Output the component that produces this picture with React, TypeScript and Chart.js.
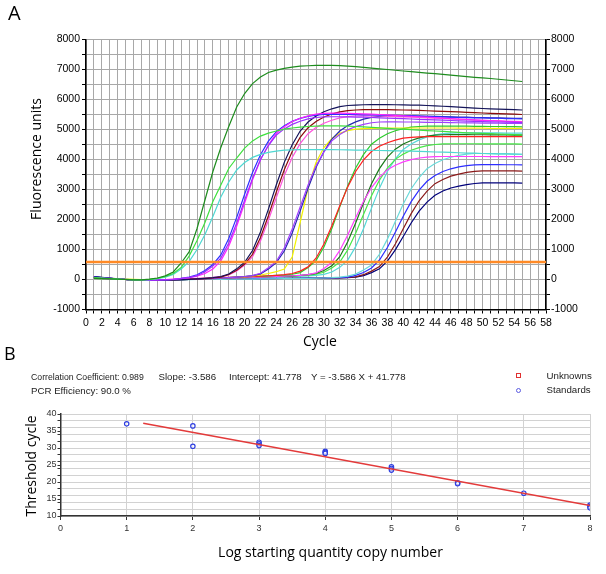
import React, { useEffect, useRef } from "react";
import { Chart, registerables } from "chart.js";
Chart.register(...registerables);

// ---------- Panel A data (fluorescence per cycle) ----------
const cycles = Array.from({ length: 55 }, (_, i) => i + 1);
const thresholdValue = 580;
const xTicksA = { min: 0, max: 58 };
const yTicksA = { min: -1000, max: 8000 };

const A1_DARKGREEN = [40, 30, 20, 10, 0, -10, -10, 10, 50, 120,
  250, 550, 920, 1700, 2650, 3600, 4400, 5100, 5750, 6200,
  6530, 6750, 6900, 6980, 7040, 7080, 7110, 7125, 7135, 7140,
  7140, 7130, 7115, 7095, 7070, 7045, 7020, 7000, 6975, 6950,
  6930, 6905, 6880, 6860, 6835, 6810, 6785, 6765, 6740, 6720,
  6700, 6675, 6650, 6625, 6600];
const A2_LIME = [60, 45, 30, 15, 0, -10, -15, 0, 40, 100,
  200, 400, 780, 1300, 1900, 2600, 3150, 3700, 4050, 4380,
  4620, 4780, 4880, 4950, 5010, 5050, 5080, 5100, 5110, 5120,
  5120, 5120, 5110, 5100, 5085, 5070, 5055, 5040, 5025, 5010,
  4995, 4980, 4965, 4950, 4935, 4920, 4905, 4890, 4880, 4870,
  4860, 4850, 4840, 4830, 4820];
const A3_CYAN = [50, 40, 25, 10, 0, -10, -15, -5, 30, 80,
  170, 350, 600, 1000, 1500, 2100, 2750, 3250, 3650, 3900,
  4070, 4170, 4240, 4280, 4310, 4320, 4330, 4330, 4330, 4330,
  4330, 4325, 4320, 4315, 4310, 4305, 4300, 4295, 4290, 4285,
  4280, 4270, 4260, 4250, 4245, 4235, 4225, 4215, 4210, 4200,
  4195, 4190, 4185, 4180, 4175];
const B1_PURPLE = [70, 50, 35, 15, 0, -10, -20, -20, -15, -10,
  0, 35, 65, 130, 255, 450, 715, 1215, 1885, 2645,
  3380, 4000, 4465, 4815, 5020, 5170, 5275, 5355, 5400, 5420,
  5425, 5425, 5420, 5415, 5410, 5400, 5390, 5380, 5370, 5360,
  5350, 5340, 5330, 5320, 5310, 5300, 5290, 5280, 5270, 5260,
  5255, 5250, 5245, 5240, 5230];
const B2_MAGENTA = [45, 35, 25, 10, 0, -10, -15, -15, -10, 0,
  15, 30, 60, 110, 200, 350, 620, 1110, 1775, 2550,
  3325, 3990, 4485, 4875, 5095, 5265, 5375, 5455, 5510, 5540,
  5545, 5545, 5540, 5530, 5520, 5510, 5500, 5485, 5470, 5455,
  5440, 5425, 5410, 5395, 5380, 5365, 5350, 5335, 5320, 5305,
  5295, 5285, 5270, 5260, 5250];
const B3_BLUE = [80, 60, 40, 20, 5, -10, -20, -20, -15, -10,
  5, 36, 77, 160, 297, 500, 820, 1365, 2070, 2840,
  3565, 4160, 4610, 4930, 5125, 5270, 5370, 5440, 5480, 5500,
  5505, 5505, 5500, 5495, 5490, 5485, 5480, 5475, 5470, 5465,
  5460, 5450, 5440, 5430, 5420, 5410, 5400, 5395, 5390, 5385,
  5380, 5375, 5365, 5360, 5350];
const C1_NAVY = [100, 70, 45, 20, 0, -15, -25, -25, -20, -15,
  -10, -5, 5, 20, 40, 60, 100, 185, 355, 575,
  965, 1580, 2345, 3160, 3905, 4495, 4950, 5250, 5450, 5590,
  5690, 5760, 5800, 5815, 5825, 5830, 5830, 5830, 5825, 5820,
  5815, 5810, 5800, 5790, 5775, 5760, 5745, 5730, 5715, 5700,
  5690, 5680, 5670, 5660, 5650];
const C2_DARKRED = [70, 50, 30, 15, 0, -10, -20, -20, -15, -10,
  -5, 0, 10, 20, 30, 50, 80, 165, 305, 515,
  840, 1400, 2125, 2915, 3660, 4270, 4735, 5060, 5265, 5415,
  5515, 5590, 5630, 5650, 5660, 5665, 5665, 5660, 5655, 5650,
  5645, 5635, 5625, 5615, 5605, 5595, 5585, 5570, 5560, 5550,
  5540, 5530, 5520, 5510, 5500];
const C3_PINK = [50, 40, 25, 10, 0, -10, -15, -15, -10, -5,
  0, 10, 20, 35, 50, 70, 100, 150, 280, 480,
  765, 1285, 1975, 2735, 3465, 4070, 4530, 4860, 5065, 5210,
  5310, 5385, 5430, 5450, 5455, 5455, 5450, 5440, 5430, 5420,
  5410, 5400, 5390, 5380, 5370, 5355, 5340, 5330, 5315, 5305,
  5295, 5285, 5275, 5270, 5260];
const D1_VIOLET = [65, 50, 30, 15, 0, -10, -20, -20, -15, -10,
  -5, 0, 10, 20, 30, 40, 50, 65, 80, 100,
  130, 210, 395, 605, 1050, 1680, 2415, 3150, 3780, 4255,
  4620, 4830, 4990, 5095, 5170, 5225, 5250, 5255, 5255, 5250,
  5250, 5245, 5240, 5240, 5235, 5230, 5225, 5220, 5220, 5215,
  5210, 5210, 5205, 5200, 5200];
const D2_INDIGO = [85, 60, 40, 20, 0, -15, -20, -25, -20, -15,
  -10, -5, 5, 15, 25, 35, 50, 65, 80, 100,
  130, 185, 350, 560, 950, 1550, 2280, 3040, 3730, 4265,
  4680, 4950, 5130, 5255, 5345, 5405, 5440, 5450, 5455, 5455,
  5450, 5445, 5440, 5435, 5430, 5420, 5415, 5410, 5400, 5395,
  5390, 5385, 5380, 5375, 5370];
const D3_YELLOW = [55, 45, 35, 25, 15, 5, -5, -15, -15, -10,
  -5, 0, 10, 20, 30, 40, 50, 60, 75, 95,
  120, 150, 200, 260, 350, 750, 1900, 3050, 3900, 4400,
  4700, 4870, 4960, 5010, 5030, 5040, 5045, 5050, 5050, 5050,
  5050, 5050, 5050, 5050, 5050, 5050, 5045, 5045, 5045, 5045,
  5040, 5040, 5040, 5040, 5040];
const E1_RED = [50, 40, 25, 10, 0, -10, -15, -15, -10, -10,
  0, 10, 20, 30, 40, 50, 60, 70, 80, 90,
  100, 110, 125, 140, 160, 200, 280, 420, 710, 1180,
  1790, 2460, 3080, 3600, 3990, 4265, 4440, 4560, 4645, 4710,
  4740, 4755, 4760, 4765, 4765, 4765, 4765, 4765, 4765, 4765,
  4765, 4765, 4760, 4760, 4760];
const E2_GREEN = [40, 35, 25, 15, 5, -5, -10, -10, -10, -10,
  -5, 5, 15, 25, 35, 45, 55, 65, 75, 85,
  95, 105, 120, 135, 150, 175, 230, 400, 630, 1080,
  1700, 2420, 3120, 3720, 4170, 4510, 4710, 4860, 4960, 5030,
  5080, 5100, 5110, 5115, 5115, 5115, 5110, 5110, 5105, 5105,
  5100, 5100, 5095, 5095, 5090];
const F1_MAGENTA = [45, 35, 25, 10, 0, -10, -15, -15, -10, -10,
  -5, 0, 10, 20, 25, 30, 40, 50, 55, 60,
  70, 80, 90, 100, 110, 125, 140, 160, 220, 370,
  575, 970, 1485, 2060, 2610, 3065, 3405, 3655, 3810, 3920,
  3995, 4050, 4080, 4095, 4100, 4100, 4100, 4100, 4100, 4100,
  4095, 4095, 4095, 4095, 4095];
const F2_DARKGREEN = [60, 45, 30, 15, 0, -10, -20, -20, -15, -15,
  -10, -5, 5, 15, 20, 30, 35, 45, 50, 60,
  70, 80, 90, 100, 110, 120, 135, 160, 200, 300,
  460, 760, 1255, 1885, 2560, 3190, 3695, 4080, 4345, 4515,
  4635, 4720, 4780, 4810, 4825, 4830, 4830, 4830, 4825, 4825,
  4820, 4820, 4820, 4815, 4815];
const F3_LIME = [35, 30, 20, 10, 0, -5, -10, -10, -5, -5,
  0, 5, 15, 25, 35, 45, 55, 65, 75, 80,
  90, 95, 100, 105, 110, 115, 125, 140, 180, 240,
  380, 580, 985, 1540, 2175, 2795, 3315, 3710, 4005, 4180,
  4310, 4395, 4460, 4500, 4520, 4525, 4525, 4525, 4525, 4520,
  4520, 4520, 4520, 4520, 4515];
const F4_CYAN = [50, 40, 25, 10, 0, -10, -15, -15, -10, -10,
  -5, 0, 10, 15, 20, 30, 35, 45, 50, 55,
  60, 70, 75, 85, 90, 100, 110, 120, 140, 170,
  250, 405, 645, 1095, 1700, 2380, 3045, 3600, 4020, 4335,
  4520, 4655, 4750, 4820, 4860, 4880, 4885, 4885, 4885, 4885,
  4885, 4885, 4880, 4880, 4880];
const G1_CYAN = [45, 35, 25, 10, 0, -10, -15, -15, -15, -10,
  -10, -5, -5, 0, 0, 5, 5, 10, 10, 15,
  15, 20, 20, 25, 30, 30, 35, 40, 45, 50,
  60, 80, 110, 180, 315, 485, 840, 1345, 1930, 2520,
  3025, 3400, 3695, 3865, 3990, 4075, 4135, 4180, 4200, 4200,
  4195, 4190, 4185, 4180, 4175];
const G2_BLUE = [75, 55, 35, 15, 0, -10, -20, -20, -15, -10,
  -5, 0, 5, 10, 15, 15, 20, 20, 25, 25,
  30, 30, 35, 35, 40, 40, 45, 45, 50, 50,
  55, 60, 80, 140, 235, 385, 650, 1065, 1575, 2110,
  2595, 2980, 3275, 3470, 3600, 3690, 3755, 3795, 3820, 3830,
  3830, 3830, 3825, 3825, 3820];
const G3_DARKRED = [60, 45, 30, 15, 0, -10, -20, -20, -15, -15,
  -10, -5, 0, 5, 10, 10, 15, 15, 20, 20,
  25, 25, 30, 30, 35, 35, 40, 40, 45, 45,
  50, 55, 70, 90, 160, 280, 430, 745, 1185, 1690,
  2195, 2625, 2945, 3195, 3335, 3445, 3515, 3570, 3605, 3620,
  3620, 3620, 3620, 3620, 3615];
const G4_NAVY = [90, 65, 40, 20, 0, -15, -25, -25, -20, -15,
  -10, -5, 0, 5, 10, 10, 15, 20, 20, 25,
  25, 30, 30, 35, 35, 40, 40, 45, 45, 50,
  50, 55, 60, 80, 130, 230, 355, 615, 990, 1435,
  1885, 2280, 2580, 2810, 2950, 3050, 3115, 3165, 3200, 3220,
  3220, 3220, 3220, 3220, 3215];

const curves = [
  { name: "A1", color: "#1e8c1e", values: A1_DARKGREEN },
  { name: "A2", color: "#3ee03e", values: A2_LIME },
  { name: "A3", color: "#4fd8d2", values: A3_CYAN },
  { name: "B1", color: "#9b30ff", values: B1_PURPLE },
  { name: "B2", color: "#ff22ff", values: B2_MAGENTA },
  { name: "B3", color: "#2f2fff", values: B3_BLUE },
  { name: "C1", color: "#14145a", values: C1_NAVY },
  { name: "C2", color: "#8b0a0a", values: C2_DARKRED },
  { name: "C3", color: "#ff55dd", values: C3_PINK },
  { name: "D1", color: "#a040ff", values: D1_VIOLET },
  { name: "D2", color: "#2828b4", values: D2_INDIGO },
  { name: "D3", color: "#f2f200", values: D3_YELLOW },
  { name: "E1", color: "#ff2020", values: E1_RED },
  { name: "E2", color: "#2ccc2c", values: E2_GREEN },
  { name: "F1", color: "#ff40ff", values: F1_MAGENTA },
  { name: "F2", color: "#1a7a1a", values: F2_DARKGREEN },
  { name: "F3", color: "#48e848", values: F3_LIME },
  { name: "F4", color: "#55d8d8", values: F4_CYAN },
  { name: "G1", color: "#6adada", values: G1_CYAN },
  { name: "G2", color: "#2e2eff", values: G2_BLUE },
  { name: "G3", color: "#8b1a1a", values: G3_DARKRED },
  { name: "G4", color: "#00007a", values: G4_NAVY },
];

// ---------- Panel B data ----------
const stdLogQty = [1, 2, 2, 3, 3, 3, 4, 4, 4, 5, 5, 5, 6, 6, 7, 8, 8, 8];
const stdCt = [37.1, 36.5, 30.5, 31.7, 31.2, 30.7, 29.0, 28.7, 28.4, 24.5, 24.0, 23.5, 19.8, 19.5, 16.7, 13.2, 12.8, 12.4];
const fitSlope = -3.586;
const fitIntercept = 41.778;
const fitRange = [1.25, 8];

const SANS = '"Open Sans", sans-serif';
const SMALL = '"Liberation Sans", Arial, sans-serif';

function AmplificationChart() {
  const ref = useRef<HTMLCanvasElement>(null);
  useEffect(() => {
    const tickFont = { family: SMALL, size: 10.5 };
    const datasets: any[] = [
      {
        data: [{ x: xTicksA.min, y: thresholdValue }, { x: xTicksA.max, y: thresholdValue }],
        borderColor: "#ff8a26",
        borderWidth: 2.5,
        pointRadius: 0,
      },
      ...curves.map((c) => ({
        data: cycles.map((cy, i) => ({ x: cy, y: c.values[i] })),
        borderColor: c.color,
        borderWidth: 1.2,
        pointRadius: 0,
      })),
    ];
    const chart = new Chart(ref.current!, {
      type: "line",
      data: { datasets },
      options: {
        animation: false,
        responsive: false,
        layout: { padding: { top: 39.5, left: 0, right: 0, bottom: 0 } },
        plugins: { legend: { display: false }, tooltip: { enabled: false } },
        scales: {
          x: {
            type: "linear",
            min: xTicksA.min,
            max: xTicksA.max,
            ticks: {
              stepSize: 1,
              autoSkip: false,
              maxRotation: 0,
              font: tickFont,
              color: "#000",
              padding: 3,
              callback: (v: any) => (v % 2 === 0 ? String(v) : ""),
            },
            grid: { color: "#a8a8a8", tickLength: 4, tickColor: "#000" },
            border: { color: "#000", width: 1.5 },
            afterFit: (s: any) => { s.height = 30.5; },
          },
          y: {
            type: "linear",
            position: "left",
            min: yTicksA.min,
            max: yTicksA.max,
            ticks: {
              stepSize: 500,
              autoSkip: false,
              font: tickFont,
              color: "#000",
              padding: 2,
              callback: (v: any) => (v % 1000 === 0 ? String(v) : ""),
            },
            grid: { color: "#a8a8a8", tickLength: 4, tickColor: "#000" },
            border: { color: "#000", width: 1.5 },
            afterFit: (s: any) => { s.width = 86; },
          },
          y2: {
            type: "linear",
            position: "right",
            min: yTicksA.min,
            max: yTicksA.max,
            ticks: {
              stepSize: 500,
              autoSkip: false,
              font: tickFont,
              color: "#000",
              padding: 1,
              callback: (v: any) => (v % 1000 === 0 ? String(v) : ""),
            },
            grid: { drawOnChartArea: false, tickLength: 4, tickColor: "#000" },
            border: { color: "#000", width: 1.5 },
            afterFit: (s: any) => { s.width = 60; },
          },
        },
      } as any,
    });
    return () => chart.destroy();
  }, []);
  return <canvas ref={ref} width={606} height={340} style={{ position: "absolute", left: 0, top: 0, width: 606, height: 340 }} />;
}

function StandardCurveChart() {
  const ref = useRef<HTMLCanvasElement>(null);
  useEffect(() => {
    const tickFont = { family: SMALL, size: 9 };
    const chart = new Chart(ref.current!, {
      type: "scatter",
      data: {
        datasets: [
          {
            type: "line",
            data: fitRange.map((x) => ({ x, y: fitSlope * x + fitIntercept })),
            borderColor: "#e33a3a",
            borderWidth: 1.5,
            pointRadius: 0,
          } as any,
          {
            data: stdLogQty.map((x, i) => ({ x, y: stdCt[i] })),
            pointStyle: "circle",
            pointRadius: 2.2,
            borderWidth: 1.2,
            borderColor: "#2f3fe0",
            backgroundColor: "rgba(255,255,255,0.6)",
          },
        ],
      },
      options: {
        animation: false,
        responsive: false,
        layout: { padding: { top: 19, left: 0, right: 16, bottom: 0 } },
        plugins: { legend: { display: false }, tooltip: { enabled: false } },
        scales: {
          x: {
            type: "linear",
            min: 0,
            max: 8,
            ticks: { stepSize: 1, autoSkip: false, maxRotation: 0, font: tickFont, color: "#333", padding: 3 },
            grid: { color: "#d2d2d2", tickLength: 4, tickColor: "#333" },
            border: { color: "#333", width: 1.5 },
            afterFit: (s: any) => { s.height = 58; },
          },
          y: {
            type: "linear",
            min: 10,
            max: 40,
            ticks: {
              stepSize: 1,
              autoSkip: false,
              font: tickFont,
              color: "#333",
              padding: 1,
              callback: (v: any) => (v % 5 === 0 ? String(v) : ""),
            },
            grid: {
              color: (ctx: any) => (ctx.tick && ctx.tick.value % 2 === 0 ? "#d2d2d2" : "rgba(0,0,0,0)"),
              tickColor: (ctx: any) =>
                ctx.tick && (ctx.tick.value % 2 === 0 || ctx.tick.value % 5 === 0) ? "#333" : "rgba(0,0,0,0)",
              tickLength: 3,
            },
            border: { color: "#333", width: 1.5 },
            afterFit: (s: any) => { s.width = 60.5; },
          },
        },
      } as any,
    });
    return () => chart.destroy();
  }, []);
  return <canvas ref={ref} width={606} height={179} style={{ position: "absolute", left: 0, top: 395, width: 606, height: 179 }} />;
}

const abs = (left: number, top: number, extra: any = {}) => ({
  position: "absolute" as const,
  left,
  top,
  whiteSpace: "nowrap" as const,
  ...extra,
});

export default function App() {
  const small = { fontFamily: SMALL, fontSize: 9.7, lineHeight: "9.7px", color: "#222" };
  const title = { fontFamily: SANS, fontSize: 14, lineHeight: "14px", color: "#000" };
  return (
    <div style={{ position: "absolute", left: 0, top: 0, width: 606, height: 574, background: "#fff", overflow: "hidden" }}>
      <AmplificationChart />
      <StandardCurveChart />
      <div style={abs(8, 3, { fontFamily: SANS, fontSize: 20, lineHeight: "20px" })}>A</div>
      <div style={abs(4, 344, { fontFamily: SANS, fontSize: 18, lineHeight: "18px" })}>B</div>
      <div style={abs(220, 334.3, { ...title, width: 200, textAlign: "center" })}>Cycle</div>
      <div style={abs(36.3 - 100, 159 - 7, { ...title, width: 200, textAlign: "center", transform: "rotate(-90deg)" })}>
        Fluorescence units
      </div>
      <div style={abs(30.6 - 100, 466 - 7, { ...title, width: 200, textAlign: "center", transform: "rotate(-90deg)" })}>
        Threshold cycle
      </div>
      <div style={abs(180.5, 545.1, { ...title, width: 300, textAlign: "center" })}>Log starting quantity copy number</div>

      <div style={abs(31, 372, { ...small, transform: "scaleX(0.9)", transformOrigin: "left center" })}>
        Correlation Coefficient: 0.989
      </div>
      <div style={abs(158.5, 372, small)}>Slope: -3.586</div>
      <div style={abs(229, 372, small)}>Intercept: 41.778</div>
      <div style={abs(311, 372, small)}>Y = -3.586 X + 41.778</div>
      <div style={abs(31, 385.5, small)}>PCR Efficiency: 90.0 %</div>

      <div style={abs(516, 373, { width: 3, height: 3, border: "1px solid #e03030" })} />
      <div style={abs(516, 387.5, { width: 3, height: 3, border: "1px solid #5a5ae0", borderRadius: "50%" })} />
      <div style={abs(546.5, 371, small)}>Unknowns</div>
      <div style={abs(546.5, 384.5, small)}>Standards</div>
    </div>
  );
}
